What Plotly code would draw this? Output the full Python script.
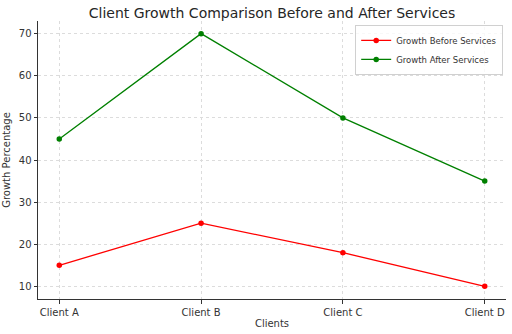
import plotly.graph_objects as go

clients = ["Client A", "Client B", "Client C", "Client D"]
before = [15, 25, 18, 10]
after = [45, 70, 50, 35]

FONT = "DejaVu Sans"

fig = go.Figure()
fig.add_trace(go.Scatter(x=list(range(len(clients))), y=before, mode="lines+markers",
                         name="Growth Before Services",
                         line=dict(color="#ff0000", width=1.3),
                         marker=dict(color="#ff0000", size=5.5)))
fig.add_trace(go.Scatter(x=list(range(len(clients))), y=after, mode="lines+markers",
                         name="Growth After Services",
                         line=dict(color="#008000", width=1.3),
                         marker=dict(color="#008000", size=5.5)))

fig.update_layout(
    width=512, height=334,
    margin=dict(l=35, r=6, t=21, b=33),
    paper_bgcolor="white", plot_bgcolor="white",
    font=dict(family=FONT, size=10, color="#333333"),
    title=dict(text="Client Growth Comparison Before and After Services",
               x=0.5, xref="paper", xanchor="center", y=0.962, yanchor="middle",
               font=dict(family=FONT, size=14, color="#262626")),
    showlegend=True,
    legend=dict(x=0.994, y=0.986, xanchor="right", yanchor="top",
                bgcolor="rgba(255,255,255,0.8)", bordercolor="#d0d0d0", borderwidth=1,
                font=dict(family=FONT, size=8.5, color="#333333"),
                itemwidth=30, tracegroupgap=0),
)
fig.update_xaxes(
    range=[-0.15, 3.15], tickmode="array", tickvals=list(range(len(clients))),
    ticktext=clients, showline=True, linecolor="#333333", linewidth=1,
    ticks="outside", ticklen=3.5, tickcolor="#333333",
    showgrid=True, gridcolor="#dcdcdc", griddash="dot", gridwidth=0.8,
    zeroline=False, mirror=False,
    title=dict(text="Clients", standoff=3, font=dict(family=FONT, size=10)),
    tickfont=dict(family=FONT, size=10),
)
fig.update_yaxes(
    range=[7, 73], tickmode="array", tickvals=[10, 20, 30, 40, 50, 60, 70],
    showline=True, linecolor="#333333", linewidth=1,
    ticks="outside", ticklen=3.5, tickcolor="#333333",
    showgrid=True, gridcolor="#dcdcdc", griddash="dot", gridwidth=0.8,
    zeroline=False, mirror=False,
    title=dict(text="Growth Percentage", standoff=6, font=dict(family=FONT, size=10)),
    tickfont=dict(family=FONT, size=10),
)

fig.write_html("out.html")
